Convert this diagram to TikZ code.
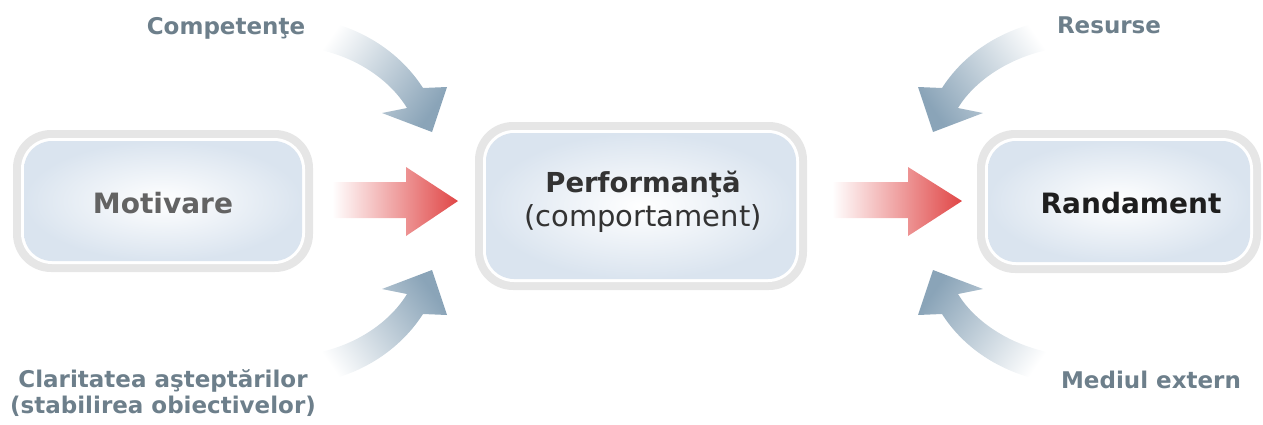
\documentclass[tikz,border=0pt]{standalone}
\usepackage{fontspec}
\setmainfont{DejaVu Sans}
\definecolor{labelgray}{HTML}{6D7F8B}
\definecolor{ringgray}{HTML}{E6E6E6}
\definecolor{boxblue}{HTML}{DAE4EF}
\definecolor{arrowblue}{HTML}{8AA4B8}
\definecolor{arrowred}{HTML}{E04646}
\definecolor{motgray}{HTML}{636363}
\definecolor{perfgray}{HTML}{333333}
\definecolor{randblack}{HTML}{1E1E1E}
\tikzset{
  sidelabel/.style={font=\bfseries\fontsize{23}{26}\selectfont, text=labelgray, inner sep=0pt, anchor=base},
  boxtitle/.style={font=\bfseries\fontsize{28}{32}\selectfont, inner sep=0pt, anchor=base},
  redarrow/.style={left color=white, right color=arrowred},
  bluearrow/.style={top color=white, bottom color=arrowblue},
}
\begin{document}
\begin{tikzpicture}[x=1pt,y=-1pt]
\useasboundingbox (0,0) rectangle (1263,424);
% boxes
\foreach \xa/\ya/\xb/\yb in {13/130/313/272, 475/122/807/290, 977/130/1261/273}{
  \fill[ringgray, rounded corners=38] (\xa,\ya) rectangle (\xb,\yb);
  \fill[white, rounded corners=31] (\xa+8,\ya+8) rectangle (\xb-8,\yb-8);
  \shade[inner color=white, outer color=boxblue, rounded corners=28] (\xa+11,\ya+11) rectangle (\xb-11,\yb-11);
}
% red arrows
\shade[redarrow] (332,182) -- (406,182) -- (406,167) -- (458,201) -- (406,236) -- (406,218) -- (332,218) -- cycle;
\shade[redarrow] (832,182) -- (908,182) -- (908,167) -- (962,201) -- (908,236) -- (908,218) -- (832,218) -- cycle;
% curved blue arrows
\shade[bluearrow, shading angle=55]
  (333,23) .. controls (375,35) and (405,60) .. (423,88) -- (447,87) -- (432,132) -- (382,113) -- (407,108) .. controls (390,80) and (355,55) .. (310,48) -- cycle;
\shade[bluearrow, shading angle=125]
  (333,379) .. controls (375,367) and (405,342) .. (423,314) -- (447,315) -- (432,270) -- (382,289) -- (407,294) .. controls (390,322) and (355,347) .. (310,354) -- cycle;
\shade[bluearrow, shading angle=-55]
  (1035,23) .. controls (990,35) and (960,60) .. (942,88) -- (918,87) -- (933,132) -- (983,113) -- (958,108) .. controls (975,80) and (1012,55) .. (1058,48) -- cycle;
\shade[bluearrow, shading angle=-125]
  (1035,379) .. controls (990,367) and (960,342) .. (942,314) -- (918,315) -- (933,270) -- (983,289) -- (958,294) .. controls (975,322) and (1012,347) .. (1058,354) -- cycle;
% texts
\node[boxtitle, text=motgray] (mot) at (163,213) {Motivare};
\node[text=perfgray, inner sep=0pt, align=center] (perf) at (643,202) {{\bfseries\fontsize{27.5}{30}\selectfont Performanţă}\\[6pt]{\fontsize{29}{30}\selectfont (comportament)}};
\node[boxtitle, text=randblack] (rand) at (1131,213) {Randament};
\node[sidelabel] (comp) at (226,34) {Competenţe};
\node[sidelabel] (res) at (1109,33) {Resurse};
\node[sidelabel] (med) at (1151,388) {Mediul extern};
\node[sidelabel, align=center, anchor=north] (clar) at (163,369) {Claritatea aşteptărilor\\(stabilirea obiectivelor)};
\end{tikzpicture}
\end{document}
